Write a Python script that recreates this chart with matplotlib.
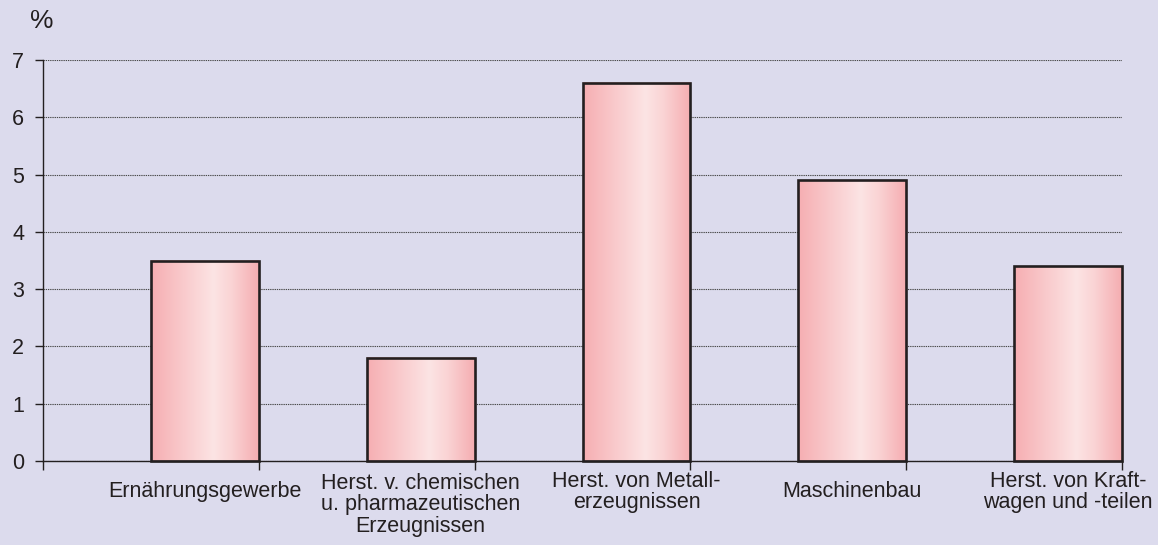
import numpy as np
import matplotlib.pyplot as plt
from matplotlib.colors import LinearSegmentedColormap

plt.rcParams['font.family'] = ['Liberation Sans', 'DejaVu Sans']

# data
categories = ['Ernährungsgewerbe',
              'Herst. v. chemischen\nu. pharmazeutischen\nErzeugnissen',
              'Herst. von Metall-\nerzeugnissen',
              'Maschinenbau',
              'Herst. von Kraft-\nwagen und -teilen']
values = [3.5, 1.8, 6.6, 4.9, 3.4]
y_ticks = [0, 1, 2, 3, 4, 5, 6, 7]

bg = '#dcdbed'
ink = '#231f20'
fs = 15.5

fig = plt.figure(figsize=(11.58, 5.45), dpi=100, facecolor=bg)
ax = fig.add_axes([43 / 1158, 1 - 461 / 545, (1122 - 43) / 1158, 401 / 545])
ax.set_facecolor(bg)

# horizontal pink gradient for the bars
grad = LinearSegmentedColormap.from_list(
    'pink', [(0.0, '#f6aeb2'), (0.3, '#f9cacc'), (0.58, '#fce4e4'),
             (0.75, '#fad3d4'), (1.0, '#f5adb1')])
row = np.linspace(0, 1, 256).reshape(1, -1)

x = np.arange(len(values))
bar_w = 0.5
for xi, v in zip(x, values):
    im = ax.imshow(row, cmap=grad, extent=(xi, xi + bar_w, 0, v),
                   aspect='auto', zorder=2, interpolation='bilinear')
    im.set_clip_on(False)
bars = ax.bar(x, values, width=bar_w, align='edge', facecolor='none',
              edgecolor=ink, linewidth=1.9, zorder=5)
for b in bars:
    b.set_clip_on(False)

ax.set_xlim(-0.5, len(values) - 0.5)
ax.set_ylim(0, 7)

# grid
ax.set_yticks(y_ticks)
ax.yaxis.grid(True, linestyle=(0, (1.2, 0.8)), color='#4a4a4a', linewidth=0.8, zorder=1)
ax.set_axisbelow(True)
ax.tick_params(axis='y', direction='out', length=5.5, width=1, color=ink,
               labelsize=fs, labelcolor=ink, pad=8)

# category boundaries as ticks
ax.set_xticks(np.arange(-0.5, len(values)))
ax.set_xticklabels([])
ax.tick_params(axis='x', direction='out', length=6.5, width=1, color=ink)

for s in ['top', 'right']:
    ax.spines[s].set_visible(False)
for s in ['left', 'bottom']:
    ax.spines[s].set_color(ink)
    ax.spines[s].set_linewidth(1)
    ax.spines[s].set_zorder(4)

# category labels under the bars
trans = ax.get_xaxis_transform()
for xi, lab in zip(x, categories):
    yy = -0.1097 if lab.count('\n') == 2 else -0.0773
    ax.text(xi + bar_w / 2, yy, lab, transform=trans, ha='center', va='center',
            multialignment='center', fontsize=fs, color=ink, linespacing=1.05)

fig.text(42 / 1158, 1 - 21 / 545, '%', ha='center', va='center',
         fontsize=19, color=ink)

plt.savefig('out.png', dpi=100, facecolor=bg)
